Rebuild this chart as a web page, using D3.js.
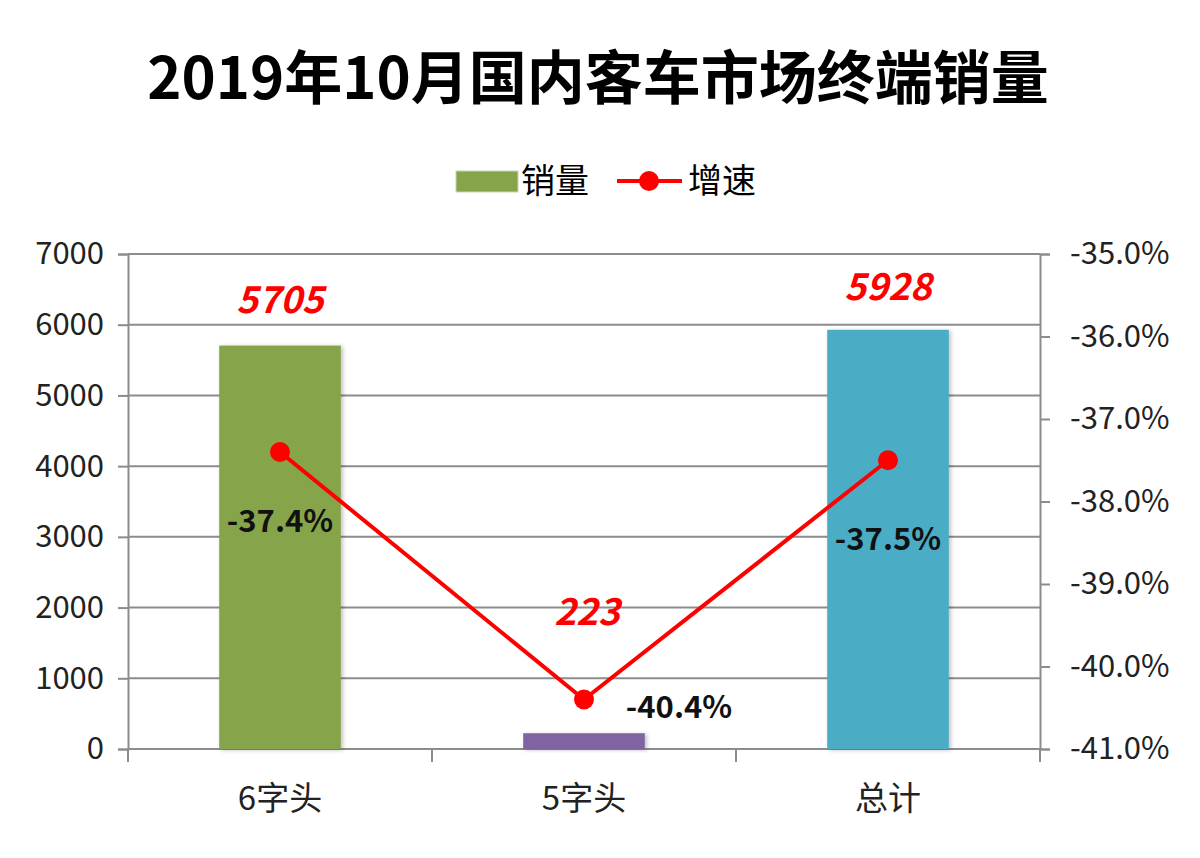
<!DOCTYPE html>
<html>
<head>
<meta charset="UTF-8">
<title>2019年10月国内客车市场终端销量</title>
<script src="https://d3js.org/d3.v7.min.js"></script>
<style>
  body { margin: 0; background: #fff; }
  text { font-family: "Noto Sans CJK SC", "Noto Sans", sans-serif; }
</style>
</head>
<body>
<script>
// DATA
var categories = ["6字头", "5字头", "总计"];
var sales = [5705, 223, 5928];
var growth = [-37.4, -40.4, -37.5];
var barColors = ["#86A44A", "#8064A2", "#4BACC6"];
var leftTicks = [0, 1000, 2000, 3000, 4000, 5000, 6000, 7000];
var rightTicks = [-41, -40, -39, -38, -37, -36, -35];

var W = 1200, H = 858;
var plot = {left: 128, right: 1040, top: 254, bottom: 749};

var svg = d3.select("body").append("svg")
    .attr("width", W).attr("height", H);

// SCALES
var x = d3.scaleBand().domain(categories)
    .range([plot.left, plot.right]).paddingInner(0.6).paddingOuter(0.3);
var xBand = d3.scaleBand().domain(categories).range([plot.left, plot.right]);
var y = d3.scaleLinear().domain([0, 7000]).range([plot.bottom, plot.top]);
var y2 = d3.scaleLinear().domain([-41, -35]).range([plot.bottom, plot.top]);

// TITLE
svg.append("text")
    .attr("x", 598).attr("y", 99)
    .attr("text-anchor", "middle")
    .style("font-size", "58px").style("font-weight", "bold")
    .text("2019年10月国内客车市场终端销量");

// LEGEND
var lg = svg.append("g");
lg.append("rect").attr("x", 456).attr("y", 171).attr("width", 62).attr("height", 21)
    .attr("fill", "#86A44A").attr("stroke", "#c9d6b0").attr("stroke-width", 1);
lg.append("text").attr("x", 521).attr("y", 193).style("font-size", "34px").text("销量");
lg.append("line").attr("x1", 617).attr("x2", 682).attr("y1", 181).attr("y2", 181)
    .attr("stroke", "#FF0000").attr("stroke-width", 4);
lg.append("circle").attr("cx", 649).attr("cy", 181).attr("r", 10).attr("fill", "#FF0000");
lg.append("text").attr("x", 688).attr("y", 193).style("font-size", "34px").text("增速");

// GRID
svg.append("g").selectAll("line").data(leftTicks.slice(1)).join("line")
    .attr("x1", plot.left).attr("x2", plot.right)
    .attr("y1", function (d) { return y(d); }).attr("y2", function (d) { return y(d); })
    .attr("stroke", "#8c8c8c").attr("stroke-width", 2);

// AXES
var axisColor = "#8c8c8c";
var gl = svg.append("g").attr("transform", "translate(" + plot.left + ",0)")
    .call(d3.axisLeft(y).tickValues(leftTicks).tickSize(10).tickPadding(14)
        .tickFormat(d3.format("d")));
var gr = svg.append("g").attr("transform", "translate(" + plot.right + ",0)")
    .call(d3.axisRight(y2).tickValues(rightTicks).tickSize(10).tickPadding(20)
        .tickFormat(function (d) { return d.toFixed(1) + "%"; }));
var gb = svg.append("g").attr("transform", "translate(0," + plot.bottom + ")")
    .call(d3.axisBottom(xBand).tickSize(0).tickPadding(38));
gb.append("g").selectAll("line")
    .data([plot.left].concat(categories.map(function (c) { return xBand(c) + xBand.bandwidth(); })))
    .join("line")
    .attr("x1", function (d) { return d; }).attr("x2", function (d) { return d; })
    .attr("y1", 0).attr("y2", 13).attr("stroke", axisColor).attr("stroke-width", 2);

[gl, gr, gb].forEach(function (g) {
    g.select(".domain").attr("stroke", axisColor).attr("stroke-width", 2);
    g.selectAll(".tick line").attr("stroke", axisColor).attr("stroke-width", 2);
    g.selectAll("text").attr("fill", "#222").style("font-size", "31px")
        .style("font-family", "\"Noto Sans CJK SC\", sans-serif");
});
gb.select(".domain").attr("d", "M" + plot.left + ",0H" + plot.right);
gb.selectAll(".tick text").style("font-size", "33px");

// BARS
var defs = svg.append("defs");
var f = defs.append("filter").attr("id", "shadow").attr("x", "-20%").attr("y", "-20%")
    .attr("width", "140%").attr("height", "140%");
f.append("feDropShadow").attr("dx", 2).attr("dy", 1).attr("stdDeviation", 2)
    .attr("flood-color", "#000").attr("flood-opacity", 0.25);

svg.append("g").selectAll("rect").data(sales).join("rect")
    .attr("x", function (d, i) { return x(categories[i]); })
    .attr("width", x.bandwidth())
    .attr("y", function (d) { return y(d); })
    .attr("height", function (d) { return plot.bottom - y(d); })
    .attr("fill", function (d, i) { return barColors[i]; })
    .attr("filter", "url(#shadow)");

// LINE
var cx = function (i) { return x(categories[i]) + x.bandwidth() / 2; };
var line = d3.line()
    .x(function (d, i) { return cx(i); })
    .y(function (d) { return y2(d); });
svg.append("path").datum(growth)
    .attr("d", line).attr("fill", "none")
    .attr("stroke", "#FF0000").attr("stroke-width", 4);
svg.append("g").selectAll("circle").data(growth).join("circle")
    .attr("cx", function (d, i) { return cx(i); })
    .attr("cy", function (d) { return y2(d); })
    .attr("r", 10).attr("fill", "#FF0000");

// VALUE LABELS
var salesLift = [33, 108, 30];
svg.append("g").selectAll("text").data(sales).join("text")
    .attr("x", function (d, i) { return cx(i) + (i === 1 ? 3 : 0); })
    .attr("y", function (d, i) { return y(d) - salesLift[i]; })
    .attr("text-anchor", "middle")
    .attr("fill", "#FF0000")
    .style("font-size", "37px").style("font-weight", "bold").style("font-style", "italic")
    .text(function (d) { return d; });

var growthDx = [0, 95, 0], growthDy = [80, 18, 90];
svg.append("g").selectAll("text").data(growth).join("text")
    .attr("x", function (d, i) { return cx(i) + growthDx[i]; })
    .attr("y", function (d, i) { return y2(d) + growthDy[i]; })
    .attr("text-anchor", "middle")
    .attr("fill", "#111")
    .style("font-size", "31px").style("font-weight", "bold")
    .text(function (d) { return d.toFixed(1) + "%"; });
</script>
</body>
</html>
